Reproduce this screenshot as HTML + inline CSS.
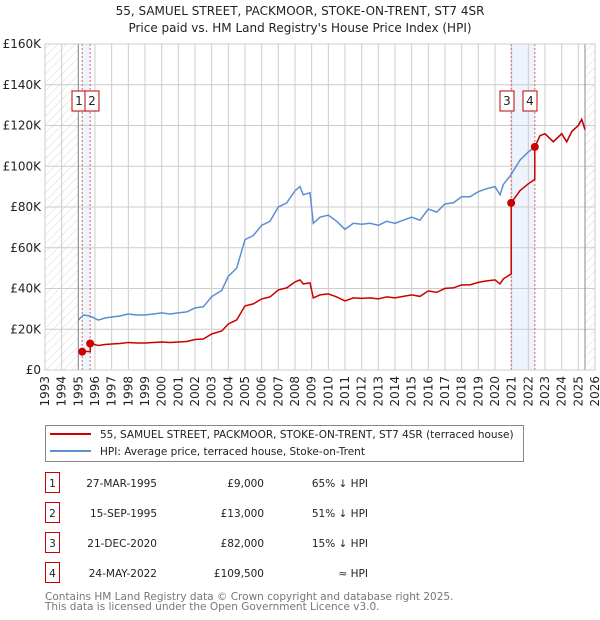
<!DOCTYPE html>
<html><head><meta charset="utf-8"><style>
body{margin:0;background:#fff;font-family:"DejaVu Sans","Liberation Sans",sans-serif;}
svg{display:block}
</style></head><body>
<svg id="c" width="600" height="620" xmlns="http://www.w3.org/2000/svg"></svg>
<script>
const hpiYears=[1995.0,1995.3,1995.7,1996.2,1996.6,1997,1997.5,1998,1998.5,1999,1999.5,2000,2000.5,2001,2001.5,2002,2002.5,2003,2003.6,2004,2004.5,2005,2005.5,2006,2006.5,2007,2007.5,2008,2008.3,2008.5,2008.9,2009.1,2009.5,2010,2010.5,2011,2011.5,2012,2012.5,2013,2013.5,2014,2014.5,2015,2015.5,2016,2016.5,2017,2017.5,2018,2018.5,2019,2019.5,2020,2020.3,2020.5,2020.97,2021.5,2022,2022.39,2022.7,2023,2023.5,2024,2024.3,2024.6,2025,2025.2,2025.4];
const hpiValues=[24500,27000,26500,24500,25500,26000,26500,27500,27000,27000,27500,28000,27500,28000,28500,30500,31000,36000,39000,46000,50000,64000,66000,71000,73000,80000,82000,88000,90000,86000,87000,72000,75000,76000,73000,69000,72000,71500,72000,71000,73000,72000,73500,75000,73500,79000,77500,81500,82000,85000,85000,87500,89000,90000,86000,91000,96000,103000,107000,109500,115000,116000,112000,116000,112000,117000,120000,123000,118000];
const saleYears=[1995.23,1995.71,2020.97,2022.39];
const salePrices=[9000,13000,82000,109500];
const yTicks=[0,20000,40000,60000,80000,100000,120000,140000,160000];
const yTickLabels=["£0","£20K","£40K","£60K","£80K","£100K","£120K","£140K","£160K"];
const xYears=[];for(let y=1993;y<=2026;y++)xYears.push(y);

const NS="http://www.w3.org/2000/svg";
const svg=document.getElementById('c');
const X0=45,X1=595,Y0=370,Y1=44;
const xs=y=>X0+(y-1993)/(2026-1993)*(X1-X0);
const ys=v=>Y0-v/160000*(Y0-Y1);
function el(t,a,p){const e=document.createElementNS(NS,t);for(const k in a)e.setAttribute(k,a[k]);(p||svg).appendChild(e);return e;}
function hpiAt(y){for(let i=0;i<hpiYears.length-1;i++){if(y<=hpiYears[i+1]){const t=(y-hpiYears[i])/(hpiYears[i+1]-hpiYears[i]);return hpiValues[i]+t*(hpiValues[i+1]-hpiValues[i]);}}return hpiValues[hpiValues.length-1];}

let t=el('text',{x:300,y:15,'text-anchor':'middle','font-size':12,fill:'#222'});t.textContent="55, SAMUEL STREET, PACKMOOR, STOKE-ON-TRENT, ST7 4SR";


t=el('text',{x:300,y:32,'text-anchor':'middle','font-size':12,fill:'#222'});t.textContent="Price paid vs. HM Land Registry's House Price Index (HPI)";



const defs=el('defs',{});
const pat=el('pattern',{id:'h',width:6,height:6,patternUnits:'userSpaceOnUse',patternTransform:'rotate(45)'},defs);
el('line',{x1:0,y1:0,x2:0,y2:6,stroke:'#d8d8d8','stroke-width':1},pat);
let r=el('rect',{x:X0,y:Y1,width:xs(1995)-X0,height:Y0-Y1,fill:'url(#h)'});


r=el('rect',{x:xs(2025.4),y:Y1,width:X1-xs(2025.4),height:Y0-Y1,fill:'url(#h)'});


[[0,1],[2,3]].forEach(([a,b])=>{const s=el('rect',{x:xs(saleYears[a]),y:Y1,width:xs(saleYears[b])-xs(saleYears[a]),height:Y0-Y1,fill:'#eef3fc'});

});
xYears.forEach(y=>{el('line',{x1:xs(y),y1:Y1,x2:xs(y),y2:Y0,stroke:'#ccc','stroke-width':1});
const l=el('text',{transform:`translate(${xs(y)+4},${Y0+6}) rotate(-90)`,'text-anchor':'end','font-size':12,fill:'#222'});l.textContent=y;

});
yTicks.forEach((v,i)=>{el('line',{x1:X0,y1:ys(v),x2:X1,y2:ys(v),stroke:'#ccc','stroke-width':1});
const l=el('text',{x:X0-4,y:ys(v)+4,'text-anchor':'end','font-size':12,fill:'#222'});l.textContent=yTickLabels[i];

});
el('line',{x1:xs(1995),y1:Y1,x2:xs(1995),y2:Y0,stroke:'#888'});
el('line',{x1:xs(2025.4),y1:Y1,x2:xs(2025.4),y2:Y0,stroke:'#888'});
saleYears.forEach(y=>el('line',{x1:xs(y),y1:Y1,x2:xs(y),y2:Y0,stroke:'#e06060','stroke-dasharray':'2,2','stroke-width':1}));

let d=hpiYears.map((y,i)=>(i?'L':'M')+xs(y).toFixed(1)+','+ys(hpiValues[i]).toFixed(1)).join('');
let p=el('path',{d:d,fill:'none',stroke:'#5b8fd4','stroke-width':1.5});


let pts=[];
for(let s=0;s<saleYears.length;s++){
  const ratio=salePrices[s]/hpiAt(saleYears[s]);
  const end=s<saleYears.length-1?saleYears[s+1]:2025.4;
  pts.push([saleYears[s],salePrices[s]]);
  hpiYears.forEach((y,i)=>{if(y>saleYears[s]&&y<end)pts.push([y,hpiValues[i]*ratio]);});
  pts.push([end,hpiAt(end)*ratio]);
}
d=pts.map((q,i)=>(i?'L':'M')+xs(q[0]).toFixed(1)+','+ys(q[1]).toFixed(1)).join('');
p=el('path',{d:d,fill:'none',stroke:'#cc0000','stroke-width':1.5});


saleYears.forEach((y,i)=>{const m=el('circle',{cx:xs(y),cy:ys(salePrices[i]),r:4,fill:'#cc0000'});

});
[[72,'1'],[85,'2'],[500,'3'],[523,'4']].forEach(([x,n])=>{const g=el('g',{});


el('rect',{x:x,y:91,width:14,height:20,fill:'#fff',stroke:'#b00',},g);
const tt=el('text',{x:x+7,y:105,'text-anchor':'middle','font-size':12,fill:'#222'},g);tt.textContent=n;});
el('rect',{x:X0,y:Y1,width:X1-X0,height:Y0-Y1,fill:'none',stroke:'#ccc'});

const lg=el('g',{});


el('rect',{x:45.5,y:425.5,width:478,height:36,fill:'#fff',stroke:'#888'},lg);
el('line',{x1:50,y1:434,x2:91,y2:434,stroke:'#cc0000','stroke-width':2},lg);
el('line',{x1:50,y1:451,x2:91,y2:451,stroke:'#5b8fd4','stroke-width':2},lg);
t=el('text',{x:100,y:438,'font-size':10.5,fill:'#222'},lg);t.textContent="55, SAMUEL STREET, PACKMOOR, STOKE-ON-TRENT, ST7 4SR (terraced house)";
t=el('text',{x:100,y:455,'font-size':10.5,fill:'#222'},lg);t.textContent="HPI: Average price, terraced house, Stoke-on-Trent";

const dates=["27-MAR-1995","15-SEP-1995","21-DEC-2020","24-MAY-2022"];
const prices=["£9,000","£13,000","£82,000","£109,500"];
const rel=["65% ↓ HPI","51% ↓ HPI","15% ↓ HPI","≈ HPI"];
dates.forEach((dt,i)=>{const yy=483+i*30;const g=el('g',{});


el('rect',{x:45.5,y:yy-10.5,width:14,height:20,fill:'#fff',stroke:'#c00'},g);
let a=el('text',{x:52.5,y:yy+4,'text-anchor':'middle','font-size':10.5,fill:'#222'},g);a.textContent=i+1;
a=el('text',{x:157,y:yy+4,'text-anchor':'end','font-size':10.5,fill:'#222'},g);a.textContent=dt;
a=el('text',{x:264,y:yy+4,'text-anchor':'end','font-size':10.5,fill:'#222'},g);a.textContent=prices[i];
a=el('text',{x:368,y:yy+4,'text-anchor':'end','font-size':10.5,fill:'#222'},g);a.textContent=rel[i];});
t=el('text',{x:45,y:600,'font-size':10.5,fill:'#777'});t.textContent="Contains HM Land Registry data © Crown copyright and database right 2025.";


t=el('text',{x:45,y:610,'font-size':10.5,fill:'#777'});t.textContent="This data is licensed under the Open Government Licence v3.0.";


</script>
</body></html>
